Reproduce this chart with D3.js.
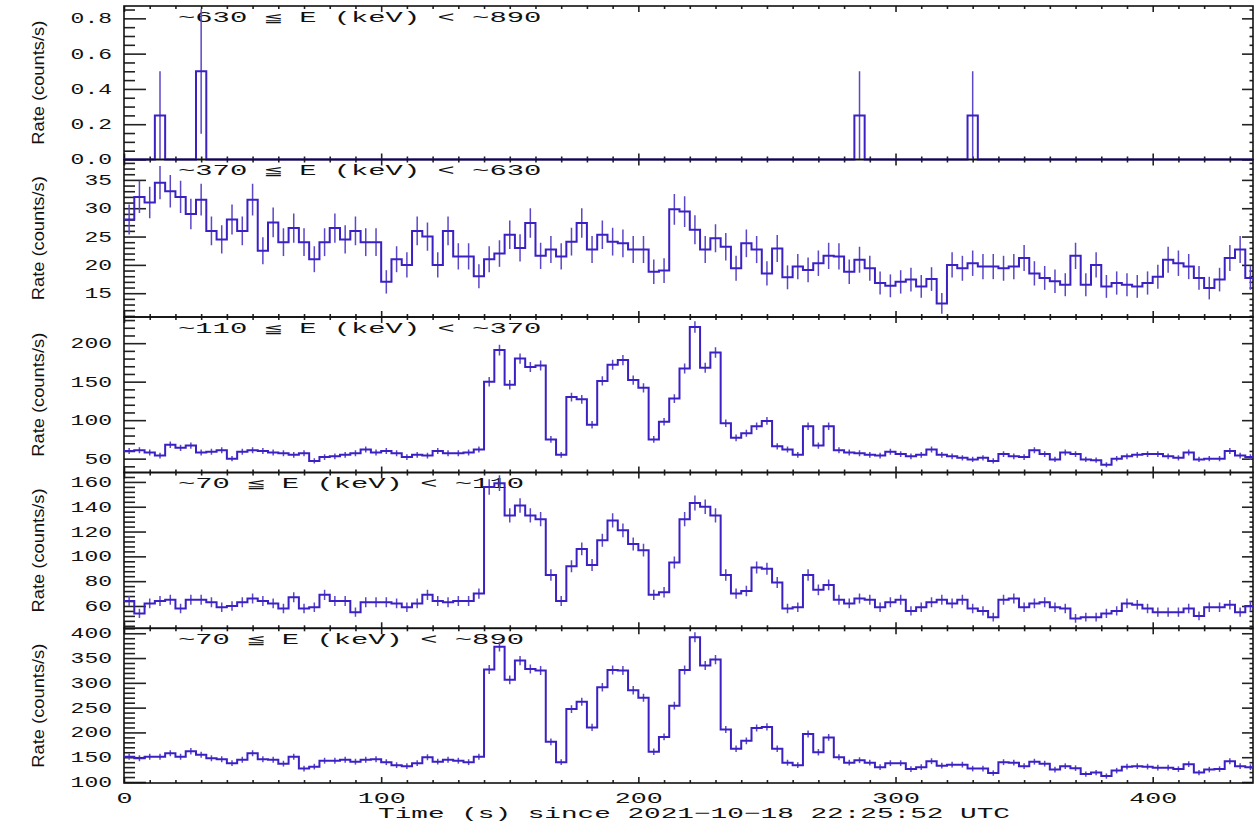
<!DOCTYPE html>
<html>
<head>
<meta charset="utf-8">
<script src="https://cdn.jsdelivr.net/npm/d3@7"></script>
<style>
  html, body { margin: 0; padding: 0; background: #fff; }
  svg { display: block; }
</style>
</head>
<body>
<script>
// 4 s bins starting at t = 0
const binWidth = 4;
const timeRange = [0, 439];
const timeTicks = [0, 100, 200, 300, 400];

const bandLabels = [
  '~630 ≦ E (keV) < ~890',
  '~370 ≦ E (keV) < ~630',
  '~110 ≦ E (keV) < ~370',
  '~70 ≦ E (keV) < ~110',
  '~70 ≦ E (keV) < ~890'
];

const rate630_890 = [
  0, 0, 0, 0.25, 0, 0, 0, 0.5, 0, 0,
  0, 0, 0, 0, 0, 0, 0, 0, 0, 0,
  0, 0, 0, 0, 0, 0, 0, 0, 0, 0,
  0, 0, 0, 0, 0, 0, 0, 0, 0, 0,
  0, 0, 0, 0, 0, 0, 0, 0, 0, 0,
  0, 0, 0, 0, 0, 0, 0, 0, 0, 0,
  0, 0, 0, 0, 0, 0, 0, 0, 0, 0,
  0, 0.25, 0, 0, 0, 0, 0, 0, 0, 0,
  0, 0, 0.25, 0, 0, 0, 0, 0, 0, 0,
  0, 0, 0, 0, 0, 0, 0, 0, 0, 0,
  0, 0, 0, 0, 0, 0, 0, 0, 0, 0
];

const rate370_630 = [
  28, 32, 31, 34.5, 33, 32, 29, 31.5, 26, 24.5,
  28, 26, 31.5, 22.5, 27.5, 24, 26.5, 24, 21, 24,
  26.5, 24.5, 26, 24, 24, 17, 21, 20, 26, 25,
  20, 26, 21.5, 21.5, 18, 21, 22, 25.3, 23, 27.4,
  21.6, 22.7, 21.5, 24.1, 27.4, 22.7, 25.3, 24.1, 23.8, 22.7,
  22.7, 18.8, 19, 29.8, 29.4, 26.2, 22.7, 24.7, 23.2, 19.4,
  23.8, 22.7, 18.5, 22.9, 17.8, 19.7, 19.1, 20.3, 21.6, 21.5,
  18.8, 20.9, 19.4, 16.8, 16.3, 17, 17.4, 16.2, 17.5, 13.2,
  20, 19.4, 20.3, 19.7, 19.7, 19.4, 19.7, 21.2, 18.5, 17.7,
  17.1, 16.5, 21.6, 16.5, 20, 16.2, 16.8, 16.5, 16.2, 16.8,
  17.9, 20.9, 20.3, 19.7, 17.7, 15.9, 17.4, 21.2, 22.7, 17.7
];

const rate110_370 = [
  60, 61, 58, 54, 68, 64, 67, 58, 59, 61,
  50, 59, 61, 60, 58, 57, 55, 57, 47, 52,
  53, 55, 57, 62, 58, 60, 57, 52, 55, 54,
  60, 57, 57, 58, 62, 150, 191, 146, 180, 169,
  171, 75, 55, 130, 127, 94, 151, 172, 178, 152,
  142, 75, 98, 128, 167, 221, 168, 188, 96, 77,
  83, 92, 99, 66, 62, 55, 92, 67, 92, 61,
  58, 57, 55, 54, 59, 56, 53, 55, 62, 55,
  53, 51, 49, 51, 47, 56, 53, 52, 61, 56,
  49, 58, 56, 49, 48, 42, 50, 53, 55, 56,
  56, 53, 51, 58, 49, 50, 50, 60, 54, 52
];

const rate70_110 = [
  64, 54, 62, 64, 65, 58, 65, 65, 63, 59,
  60, 63, 66, 64, 62, 58, 67, 58, 59, 69,
  64, 64, 55, 63, 63, 63, 62, 59, 62, 69,
  64, 63, 64, 64, 70, 156, 159, 133, 141, 133,
  130, 85, 64, 92, 106, 93, 113, 129, 121, 110,
  105, 69, 71, 95, 130, 143, 140, 133, 85, 70,
  72, 91, 90, 79, 58, 59, 85, 73, 77, 65,
  62, 66, 65, 59, 63, 65, 56, 59, 63, 65,
  62, 65, 58, 56, 51, 65, 66, 59, 62, 63,
  59, 58, 50, 51, 51, 54, 56, 62, 61, 58,
  55, 55, 55, 58, 52, 59, 59, 61, 55, 60
];

const rate70_890 = [
  151, 148, 151, 151, 158, 151, 162, 155, 148, 146,
  138, 145, 158, 146, 145, 137, 151, 127, 131, 143,
  143, 145, 141, 145, 146, 140, 134, 132, 138, 150,
  141, 145, 143, 140, 151, 327, 373, 306, 345, 328,
  325, 181, 140, 247, 262, 210, 291, 326, 325, 285,
  270, 161, 191, 254, 326, 392, 335, 347, 206, 167,
  183, 209, 211, 167, 139, 134, 197, 160, 190, 150,
  139, 144, 139, 130, 138, 138, 126, 130, 142, 133,
  135, 135, 127, 127, 118, 140, 139, 132, 141, 137,
  125, 132, 128, 116, 119, 112, 123, 131, 132, 131,
  129, 129, 126, 136, 119, 125, 126, 142, 132, 130
];

const panels = [
  { rates: rate630_890, top: 6, bottom: 159.5, domain: [0, 0.87], major: 0.2, minor: 0.05, fmt: d3.format('.1f') },
  { rates: rate370_630, top: 159.5, bottom: 317, domain: [10.8, 38.6], major: 5, minor: 1, fmt: d3.format('d') },
  { rates: rate110_370, top: 317, bottom: 472.5, domain: [32, 234], major: 50, minor: 10, fmt: d3.format('d') },
  { rates: rate70_110, top: 472.5, bottom: 628.3, domain: [42, 167.6], major: 20, minor: 4, fmt: d3.format('d') },
  { rates: rate70_890, top: 628.3, bottom: 783, domain: [98, 410], major: 50, minor: 10, fmt: d3.format('d') }
];

const width = 1255;
const height = 824;
const plotLeft = 124;
const plotRight = 1253;
const lineColor = '#3c20c4';
const errColor = '#5d46c8';
const monoFont = "'Liberation Mono', 'DejaVu Sans Mono', monospace";

const x = d3.scaleLinear().domain(timeRange).range([plotLeft, plotRight]);

// multiples of step inside a domain, without float drift
const tickRange = (domain, step) => {
  const n0 = Math.ceil(domain[0] / step - 1e-9);
  const n1 = Math.floor(domain[1] / step + 1e-9);
  return d3.range(n0, n1 + 1).map(n => +(n * step).toFixed(6));
};

const svg = d3.select('body')
  .append('svg')
  .attr('width', width)
  .attr('height', height)
  .attr('viewBox', `0 0 ${width} ${height}`);

const xMinor = tickRange(timeRange, 10).filter(t => t % 100 !== 0);

panels.forEach((p, i) => {
  const y = d3.scaleLinear().domain(p.domain).range([p.bottom, p.top]);
  const major = tickRange(p.domain, p.major);
  const minor = tickRange(p.domain, p.minor).filter(v => !major.includes(v));
  const g = svg.append('g');

  const noLabel = a => a.tickFormat('').tickSizeOuter(0);
  const clean = sel => sel.call(s => s.select('.domain').remove())
    .call(s => s.selectAll('.tick line').attr('stroke', '#222').attr('stroke-width', 1.6));

  // y ticks, pointing inward on both sides
  g.append('g').attr('transform', `translate(${plotLeft},0)`)
    .call(noLabel(d3.axisRight(y).tickValues(major).tickSize(22))).call(clean);
  g.append('g').attr('transform', `translate(${plotLeft},0)`)
    .call(noLabel(d3.axisRight(y).tickValues(minor).tickSize(11))).call(clean);
  g.append('g').attr('transform', `translate(${plotRight},0)`)
    .call(noLabel(d3.axisLeft(y).tickValues(major).tickSize(11))).call(clean);
  g.append('g').attr('transform', `translate(${plotRight},0)`)
    .call(noLabel(d3.axisLeft(y).tickValues(minor).tickSize(3.5))).call(clean);

  // y tick labels
  g.append('g').attr('transform', `translate(${plotLeft},0)`)
    .call(d3.axisLeft(y).tickValues(major).tickSize(0).tickPadding(12).tickFormat(p.fmt))
    .call(s => s.select('.domain').remove())
    .call(s => s.selectAll('text')
      .attr('font-family', monoFont)
      .attr('font-size', 14)
      .attr('fill', '#111')
      .attr('textLength', d => p.fmt(d).length * 13.8)
      .attr('lengthAdjust', 'spacingAndGlyphs'));

  // x ticks on top and bottom edges
  g.append('g').attr('transform', `translate(0,${p.top})`)
    .call(noLabel(d3.axisBottom(x).tickValues(timeTicks).tickSize(6))).call(clean);
  g.append('g').attr('transform', `translate(0,${p.top})`)
    .call(noLabel(d3.axisBottom(x).tickValues(xMinor).tickSize(3))).call(clean);
  g.append('g').attr('transform', `translate(0,${p.bottom})`)
    .call(noLabel(d3.axisTop(x).tickValues(timeTicks).tickSize(6))).call(clean);
  g.append('g').attr('transform', `translate(0,${p.bottom})`)
    .call(noLabel(d3.axisTop(x).tickValues(xMinor).tickSize(3))).call(clean);

  // frame
  g.append('rect')
    .attr('x', plotLeft).attr('y', p.top)
    .attr('width', plotRight - plotLeft).attr('height', p.bottom - p.top)
    .attr('fill', 'none').attr('stroke', '#111').attr('stroke-width', 1.6);

  // y title
  g.append('text')
    .attr('transform', `translate(44,${(p.top + p.bottom) / 2}) rotate(-90)`)
    .attr('text-anchor', 'middle')
    .attr('font-family', "'Liberation Sans Narrow', 'Liberation Sans', sans-serif")
    .attr('font-size', 17)
    .attr('fill', '#111')
    .attr('textLength', 124)
    .attr('lengthAdjust', 'spacingAndGlyphs')
    .text('Rate (counts/s)');

  // energy band label
  g.append('text')
    .attr('x', 178)
    .attr('y', p.top + 15.5)
    .attr('font-family', monoFont)
    .attr('font-size', 14)
    .attr('fill', '#111')
    .attr('textLength', bandLabels[i].length * 17.3)
    .attr('lengthAdjust', 'spacingAndGlyphs')
    .text(bandLabels[i]);

  // data
  const clipId = `clip-${i}`;
  svg.append('clipPath').attr('id', clipId)
    .append('rect')
    .attr('x', plotLeft).attr('y', p.top - 2)
    .attr('width', plotRight - plotLeft).attr('height', p.bottom - p.top + 4);

  const pts = p.rates.map((v, k) => ({ t: k * binWidth, v }));
  pts.push({ t: p.rates.length * binWidth, v: p.rates[p.rates.length - 1] });

  const step = d3.line()
    .curve(d3.curveStepAfter)
    .x(d => x(d.t))
    .y(d => y(d.v));

  const dg = svg.append('g').attr('clip-path', `url(#${clipId})`);

  // Poisson errors of the counts in each bin
  dg.selectAll('line.err')
    .data(p.rates.map((v, k) => ({ t: k * binWidth + binWidth / 2, v })).filter(d => d.v > 0))
    .join('line')
    .attr('class', 'err')
    .attr('x1', d => x(d.t)).attr('x2', d => x(d.t))
    .attr('y1', d => y(d.v - Math.sqrt(d.v * binWidth) / binWidth))
    .attr('y2', d => y(d.v + Math.sqrt(d.v * binWidth) / binWidth))
    .attr('stroke', errColor)
    .attr('stroke-width', 1.5);

  dg.append('path')
    .datum(pts)
    .attr('fill', 'none')
    .attr('stroke', lineColor)
    .attr('stroke-width', 2)
    .attr('d', step);

  if (i === panels.length - 1) {
    svg.append('g').attr('transform', `translate(0,${p.bottom})`)
      .call(d3.axisBottom(x).tickValues(timeTicks).tickSize(0).tickPadding(10).tickFormat(d3.format('d')))
      .call(s => s.select('.domain').remove())
      .call(s => s.selectAll('text')
        .attr('font-family', monoFont)
        .attr('font-size', 14)
        .attr('fill', '#111')
        .attr('textLength', d => String(d).length * 16)
        .attr('lengthAdjust', 'spacingAndGlyphs'));
  }
});

svg.append('text')
  .attr('x', 694)
  .attr('y', 818)
  .attr('text-anchor', 'middle')
  .attr('font-family', monoFont)
  .attr('font-size', 15)
  .attr('fill', '#111')
  .attr('textLength', 632)
  .attr('lengthAdjust', 'spacingAndGlyphs')
  .text('Time (s) since 2021\u221210\u221218 22:25:52 UTC');
</script>
</body>
</html>
